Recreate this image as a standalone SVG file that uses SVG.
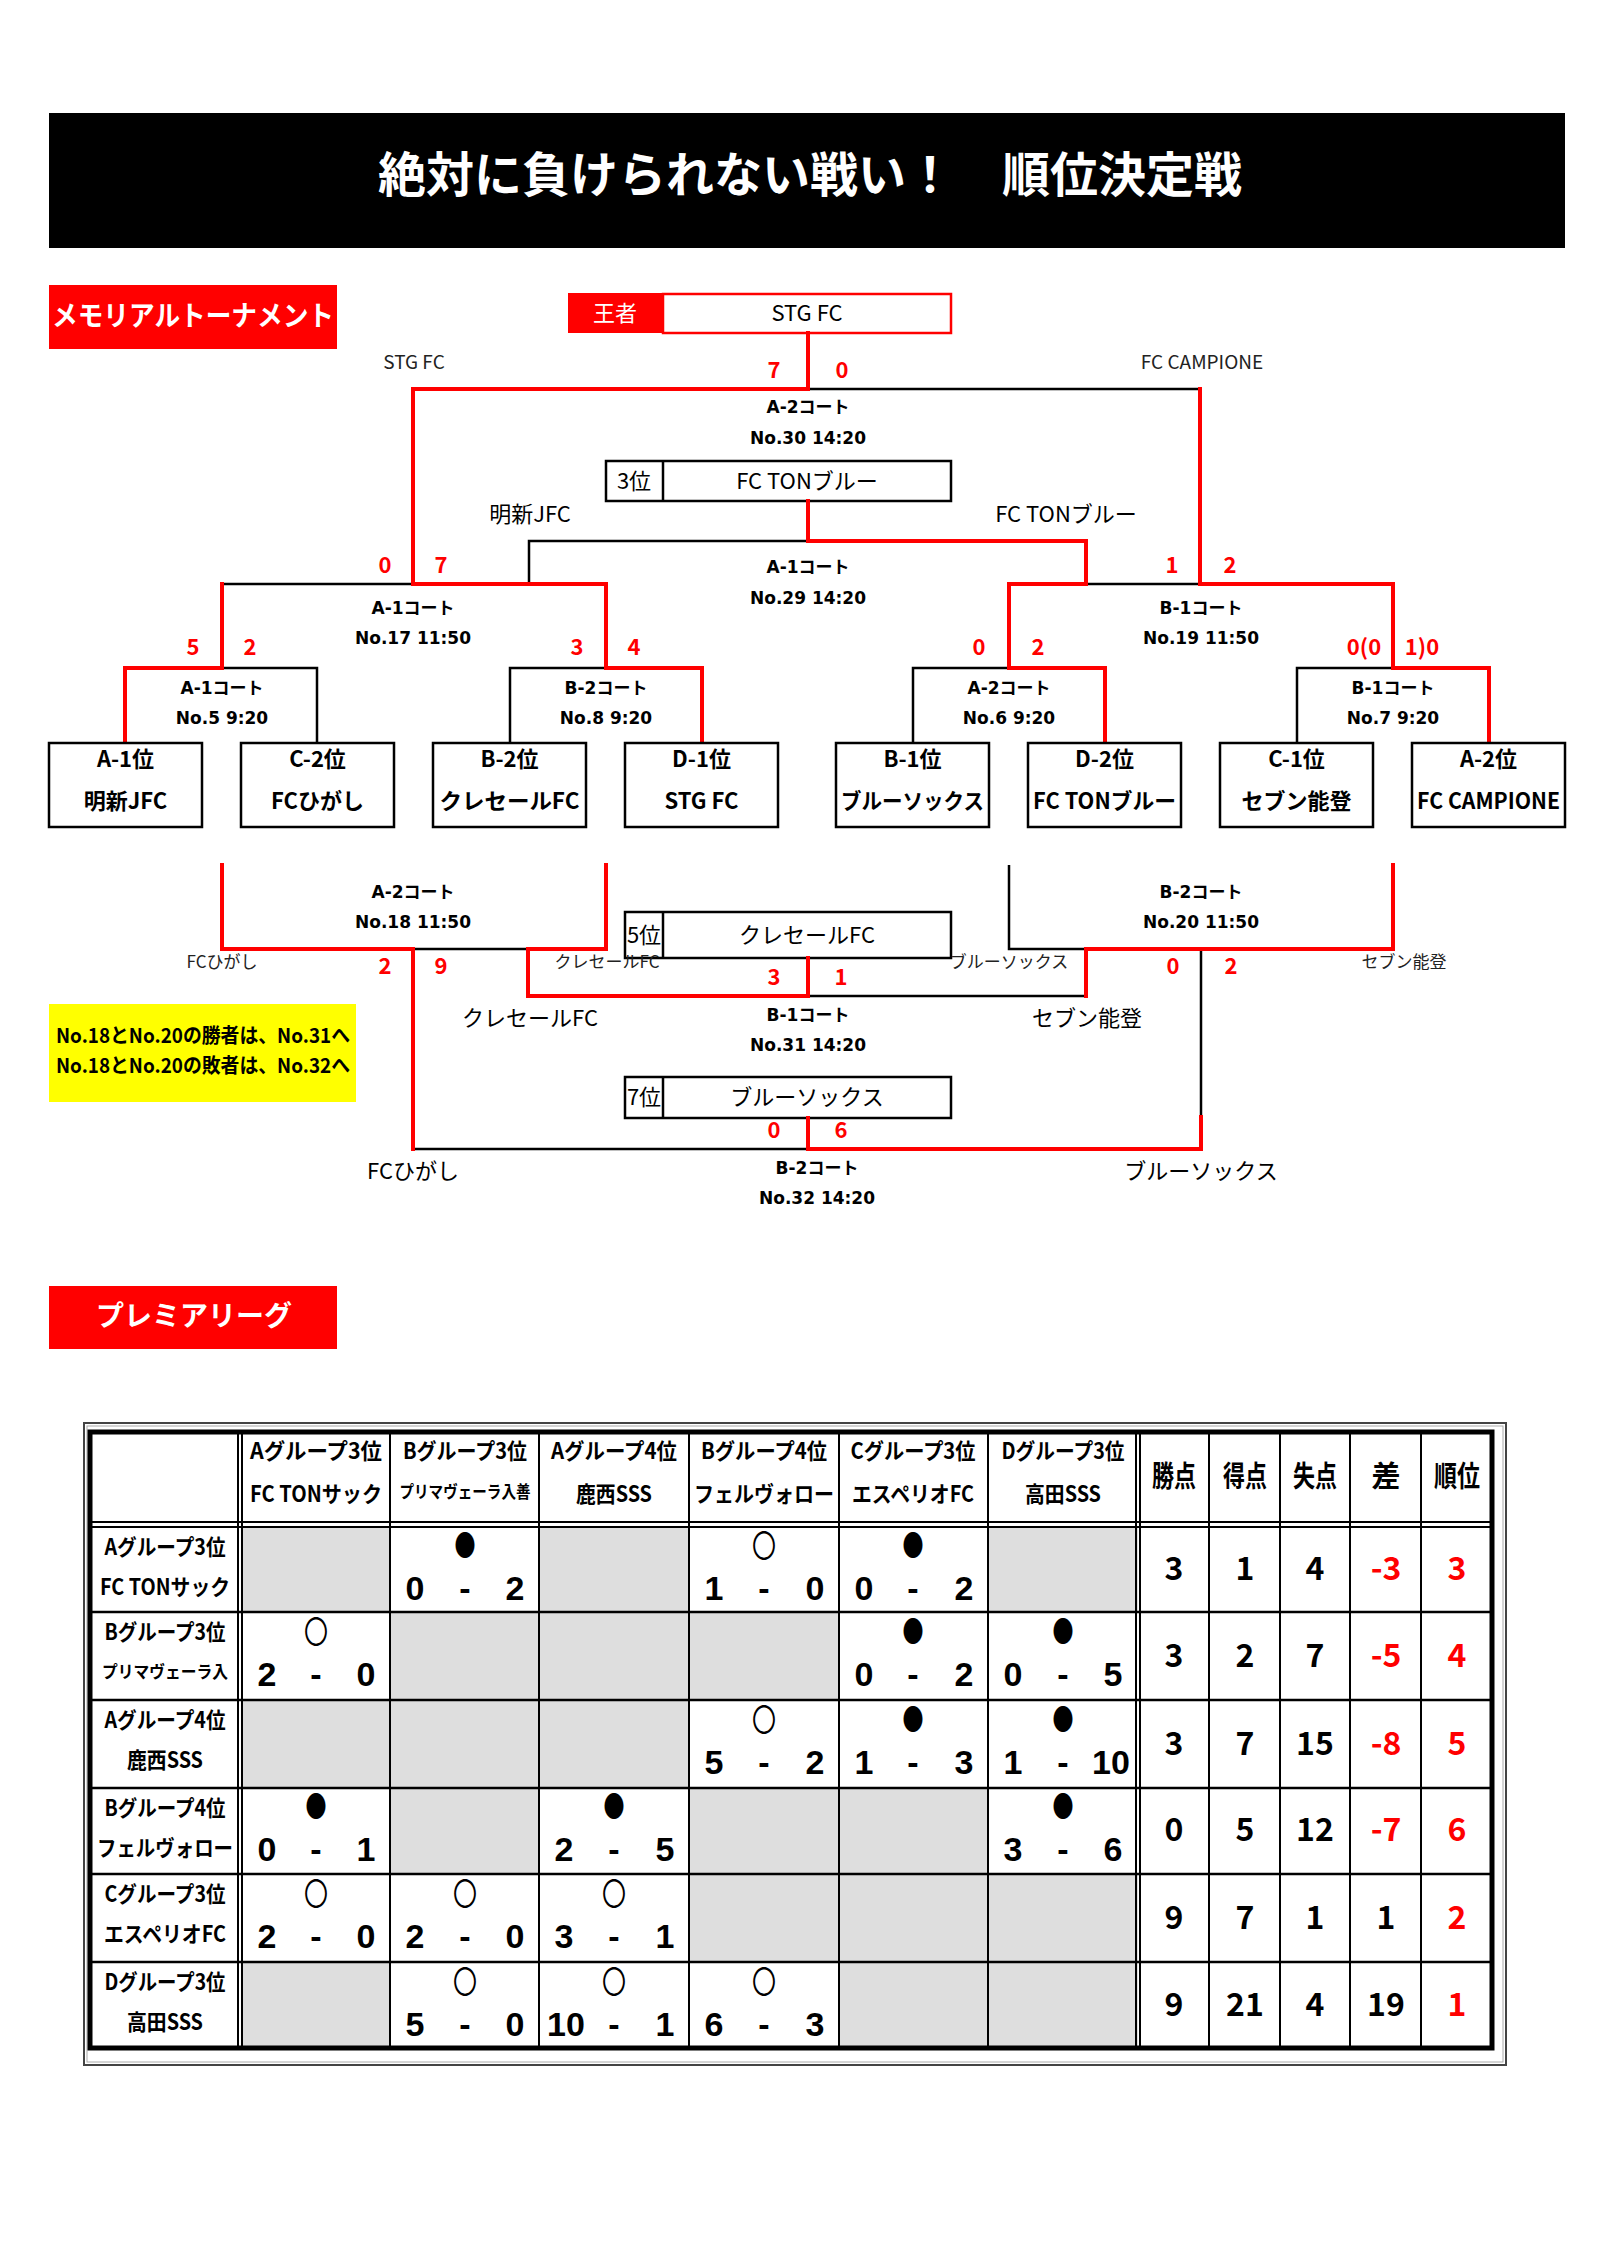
<svg xmlns="http://www.w3.org/2000/svg" width="1604" height="2268" viewBox="0 0 1604 2268">
<style>
text{font-family:"Noto Sans CJK JP","Noto Sans",sans-serif}
.title{font-size:48px;font-weight:bold;fill:#fff;text-anchor:middle}
.lab{font-size:28px;font-weight:bold;fill:#fff;text-anchor:middle}
.sc{font-size:22px;font-weight:bold;fill:#f00;text-anchor:middle}
.ct{font-family:"DejaVu Sans","Noto Sans CJK JP",sans-serif;font-size:17px;font-weight:bold;text-anchor:middle}
.bx{font-size:22px;font-weight:bold;text-anchor:middle}
.sm{font-size:17px;fill:#222;text-anchor:middle}
.sl{font-size:19px;fill:#222;text-anchor:middle}
.nm{font-size:22px;text-anchor:middle}
.rl{fill:none;stroke:#f00;stroke-width:4;stroke-linecap:square}
.bl{fill:none;stroke:#000;stroke-width:2.5}
.box{fill:#fff;stroke:#000;stroke-width:2.5}
.g{fill:#dedede}
.tl{stroke:#000;stroke-width:2}
.th{font-size:22px;font-weight:bold;text-anchor:middle}
.ts{font-size:17px;font-weight:bold;text-anchor:middle}
.hs{font-size:29px;font-weight:bold;text-anchor:middle}
.d{font-family:"Liberation Sans",Arial,sans-serif;font-size:34px;font-weight:bold;text-anchor:middle}
.st{font-size:32px;font-weight:bold;text-anchor:middle}
.r{fill:#f00}
.bk{font-size:29px;text-anchor:middle}
.wh{font-size:31px;text-anchor:middle}
</style>

<g id="title">
<rect x="49" y="113" width="1516" height="135" fill="#000"/>
<text class="title" x="810" y="192">絶対に負けられない戦い！　順位決定戦</text>
</g>

<g id="label-memorial">
<rect x="49" y="285" width="288" height="64" fill="#f00"/>
<text class="lab" x="193" y="326" textLength="282" lengthAdjust="spacingAndGlyphs">メモリアルトーナメント</text>
</g>

<g id="champion">
<rect x="568" y="293" width="95" height="40" fill="#f00"/>
<rect x="663" y="294" width="288" height="39" fill="#fff" stroke="#f00" stroke-width="2.5"/>
<text class="nm" x="615" y="321" fill="#fff">王者</text>
<text class="nm" x="807" y="321">STG FC</text>
</g>

<g id="third">
<rect x="606" y="461" width="345" height="40" class="box"/>
<line x1="663" y1="461" x2="663" y2="501" class="bl"/>
<text class="nm" x="634" y="489">3位</text>
<text class="nm" x="807" y="489">FC TONブルー</text>
</g>

<g id="fifth">
<rect x="625" y="912" width="326" height="46" class="box"/>
<line x1="663" y1="912" x2="663" y2="958" class="bl"/>
<text class="nm" x="644" y="943">5位</text>
<text class="nm" x="807" y="943">クレセールFC</text>
</g>

<g id="seventh">
<rect x="625" y="1077" width="326" height="41" class="box"/>
<line x1="663" y1="1077" x2="663" y2="1118" class="bl"/>
<text class="nm" x="644" y="1105">7位</text>
<text class="nm" x="807" y="1105">ブルーソックス</text>
</g>

<g id="connectors">
<path class="bl" d="M808,389 H1200 M529,584 V541 H808 M222,584 H413 M222,668 H317 V743 M510,743 V668 H606 M1086,584 H1200 M913,743 V668 H1009 M1297,743 V668 H1393 M413,949 H528 M413,1149 H808 M1201,1117 V949 M808,996 H1086 M1009,865 V949 H1086"/>
<path class="rl" d="M808,333 V389 M413,584 V389 H808 M1200,584 V389 M808,501 V541 H1086 V584 M222,668 V584 M413,584 H606 V668 M125,743 V668 H222 M606,668 H702 V743 M1009,668 V584 H1086 M1200,584 H1393 V668 M1009,668 H1105 V743 M1393,668 H1489 V743 M222,865 V949 H413 V1149 M606,865 V949 H528 V996 H808 M808,958 V996 M1086,996 V949 H1393 V865 M808,1118 V1149 H1201 V1117"/>
</g>

<g id="bracket-labels">
<text class="sl" x="414" y="369">STG FC</text>
<text class="sl" x="1202" y="369">FC CAMPIONE</text>
<text class="sc" x="774" y="378">7</text>
<text class="sc" x="842" y="378">0</text>
<text class="ct" x="808" y="413">A-2コート</text>
<text class="ct" x="808" y="444">No.30 14:20</text>
<text class="nm" x="530" y="522">明新JFC</text>
<text class="nm" x="1066" y="522">FC TONブルー</text>
<text class="sc" x="385" y="573">0</text>
<text class="sc" x="441" y="573">7</text>
<text class="sc" x="1172" y="573">1</text>
<text class="sc" x="1230" y="573">2</text>
<text class="ct" x="808" y="573">A-1コート</text>
<text class="ct" x="808" y="604">No.29 14:20</text>
<text class="ct" x="413" y="614">A-1コート</text>
<text class="ct" x="413" y="644">No.17 11:50</text>
<text class="ct" x="1201" y="614">B-1コート</text>
<text class="ct" x="1201" y="644">No.19 11:50</text>
<text class="sc" x="193" y="655">5</text>
<text class="sc" x="250" y="655">2</text>
<text class="sc" x="577" y="655">3</text>
<text class="sc" x="634" y="655">4</text>
<text class="sc" x="979" y="655">0</text>
<text class="sc" x="1038" y="655">2</text>
<text class="sc" x="1364" y="655">0(0</text>
<text class="sc" x="1422" y="655">1)0</text>
<text class="ct" x="222" y="694">A-1コート</text>
<text class="ct" x="222" y="724">No.5 9:20</text>
<text class="ct" x="606" y="694">B-2コート</text>
<text class="ct" x="606" y="724">No.8 9:20</text>
<text class="ct" x="1009" y="694">A-2コート</text>
<text class="ct" x="1009" y="724">No.6 9:20</text>
<text class="ct" x="1393" y="694">B-1コート</text>
<text class="ct" x="1393" y="724">No.7 9:20</text>

<text class="ct" x="413" y="898">A-2コート</text>
<text class="ct" x="413" y="928">No.18 11:50</text>
<text class="ct" x="1201" y="898">B-2コート</text>
<text class="ct" x="1201" y="928">No.20 11:50</text>
<text class="sm" x="222" y="968">FCひがし</text>
<text class="sm" x="607" y="968">クレセールFC</text>
<text class="sm" x="1009" y="968">ブルーソックス</text>
<text class="sm" x="1404" y="968">セブン能登</text>
<text class="sc" x="385" y="974">2</text>
<text class="sc" x="441" y="974">9</text>
<text class="sc" x="1173" y="974">0</text>
<text class="sc" x="1231" y="974">2</text>
<text class="sc" x="774" y="985">3</text>
<text class="sc" x="841" y="985">1</text>
<text class="nm" x="530" y="1026">クレセールFC</text>
<text class="nm" x="1087" y="1026">セブン能登</text>
<text class="ct" x="808" y="1021">B-1コート</text>
<text class="ct" x="808" y="1051">No.31 14:20</text>
<text class="sc" x="774" y="1138">0</text>
<text class="sc" x="841" y="1138">6</text>
<text class="nm" x="413" y="1179">FCひがし</text>
<text class="nm" x="1201" y="1179">ブルーソックス</text>
<text class="ct" x="817" y="1174">B-2コート</text>
<text class="ct" x="817" y="1204">No.32 14:20</text>
</g>

<g id="team-a1"><rect class="box" x="49" y="743" width="153" height="84"/><text class="bx" x="125.5" y="767">A-1位</text><text class="bx" x="125.5" y="809">明新JFC</text></g>
<g id="team-c2"><rect class="box" x="241" y="743" width="153" height="84"/><text class="bx" x="317.5" y="767">C-2位</text><text class="bx" x="317.5" y="809">FCひがし</text></g>
<g id="team-b2"><rect class="box" x="433" y="743" width="153" height="84"/><text class="bx" x="509.5" y="767">B-2位</text><text class="bx" x="509.5" y="809" textLength="140" lengthAdjust="spacingAndGlyphs">クレセールFC</text></g>
<g id="team-d1"><rect class="box" x="625" y="743" width="153" height="84"/><text class="bx" x="701.5" y="767">D-1位</text><text class="bx" x="701.5" y="809">STG FC</text></g>
<g id="team-b1"><rect class="box" x="836" y="743" width="153" height="84"/><text class="bx" x="912.5" y="767">B-1位</text><text class="bx" x="912.5" y="809" textLength="143" lengthAdjust="spacingAndGlyphs">ブルーソックス</text></g>
<g id="team-d2"><rect class="box" x="1028" y="743" width="153" height="84"/><text class="bx" x="1104.5" y="767">D-2位</text><text class="bx" x="1104.5" y="809" textLength="143" lengthAdjust="spacingAndGlyphs">FC TONブルー</text></g>
<g id="team-c1"><rect class="box" x="1220" y="743" width="153" height="84"/><text class="bx" x="1296.5" y="767">C-1位</text><text class="bx" x="1296.5" y="809">セブン能登</text></g>
<g id="team-a2"><rect class="box" x="1412" y="743" width="153" height="84"/><text class="bx" x="1488.5" y="767">A-2位</text><text class="bx" x="1488.5" y="809" textLength="143" lengthAdjust="spacingAndGlyphs">FC CAMPIONE</text></g>

<g id="note">
<rect x="49" y="1004" width="307" height="98" fill="#ff0"/>
<text x="56" y="1043" font-size="20" font-weight="bold" textLength="294" lengthAdjust="spacingAndGlyphs">No.18とNo.20の勝者は、No.31へ</text>
<text x="56" y="1073" font-size="20" font-weight="bold" textLength="294" lengthAdjust="spacingAndGlyphs">No.18とNo.20の敗者は、No.32へ</text>
</g>

<g id="label-premier">
<rect x="49" y="1286" width="288" height="63" fill="#f00"/>
<text class="lab" x="194" y="1326">プレミアリーグ</text>
</g>

<g id="league-table">
<rect x="84" y="1423" width="1422" height="642" fill="#fff" stroke="#444" stroke-width="2"/>
<rect x="87" y="1426" width="1416" height="636" fill="none" stroke="#aaa" stroke-width="1"/>
<rect class="g" x="242" y="1527" width="148" height="85"/>
<rect class="g" x="539" y="1527" width="150" height="85"/>
<rect class="g" x="988" y="1527" width="150" height="85"/>
<rect class="g" x="390" y="1612" width="449" height="88"/>
<rect class="g" x="242" y="1700" width="447" height="88"/>
<rect class="g" x="390" y="1788" width="149" height="86"/>
<rect class="g" x="689" y="1788" width="299" height="86"/>
<rect class="g" x="689" y="1874" width="449" height="88"/>
<rect class="g" x="242" y="1962" width="148" height="86"/>
<rect class="g" x="839" y="1962" width="299" height="86"/>
<g class="tl">
<line x1="238" y1="1432" x2="238" y2="2048"/><line x1="242" y1="1432" x2="242" y2="2048"/>
<line x1="390" y1="1432" x2="390" y2="2048"/>
<line x1="539" y1="1432" x2="539" y2="2048"/>
<line x1="689" y1="1432" x2="689" y2="2048"/>
<line x1="839" y1="1432" x2="839" y2="2048"/>
<line x1="988" y1="1432" x2="988" y2="2048"/>
<line x1="1136" y1="1432" x2="1136" y2="2048"/><line x1="1140" y1="1432" x2="1140" y2="2048"/>
<line x1="1209" y1="1432" x2="1209" y2="2048"/>
<line x1="1280" y1="1432" x2="1280" y2="2048"/>
<line x1="1350" y1="1432" x2="1350" y2="2048"/>
<line x1="1421" y1="1432" x2="1421" y2="2048"/>
<line x1="90" y1="1522" x2="1492" y2="1522"/><line x1="90" y1="1527" x2="1492" y2="1527"/>
<line x1="90" y1="1612" x2="1492" y2="1612" stroke-width="2.5"/>
<line x1="90" y1="1700" x2="1492" y2="1700" stroke-width="2.5"/>
<line x1="90" y1="1788" x2="1492" y2="1788" stroke-width="2.5"/>
<line x1="90" y1="1874" x2="1492" y2="1874" stroke-width="2.5"/>
<line x1="90" y1="1962" x2="1492" y2="1962" stroke-width="2.5"/>
</g>
<rect x="90" y="1432" width="1402" height="616" fill="none" stroke="#000" stroke-width="5"/>

<text class="th" x="316" y="1459" textLength="132" lengthAdjust="spacingAndGlyphs">Aグループ3位</text>
<text class="th" x="316" y="1502" textLength="132" lengthAdjust="spacingAndGlyphs">FC TONサック</text>
<text class="th" x="465" y="1459" textLength="124" lengthAdjust="spacingAndGlyphs">Bグループ3位</text>
<text class="ts" x="465" y="1498" textLength="131" lengthAdjust="spacingAndGlyphs">プリマヴェーラ入善</text>
<text class="th" x="614" y="1459" textLength="126" lengthAdjust="spacingAndGlyphs">Aグループ4位</text>
<text class="th" x="614" y="1502" textLength="76" lengthAdjust="spacingAndGlyphs">鹿西SSS</text>
<text class="th" x="764" y="1459" textLength="126" lengthAdjust="spacingAndGlyphs">Bグループ4位</text>
<text class="th" x="764" y="1502" textLength="140" lengthAdjust="spacingAndGlyphs">フェルヴォロー</text>
<text class="th" x="913" y="1459" textLength="125" lengthAdjust="spacingAndGlyphs">Cグループ3位</text>
<text class="th" x="913" y="1502" textLength="122" lengthAdjust="spacingAndGlyphs">エスペリオFC</text>
<text class="th" x="1063" y="1459" textLength="123" lengthAdjust="spacingAndGlyphs">Dグループ3位</text>
<text class="th" x="1063" y="1502" textLength="76" lengthAdjust="spacingAndGlyphs">高田SSS</text>
<text class="hs" x="1174" y="1487" textLength="44" lengthAdjust="spacingAndGlyphs">勝点</text>
<text class="hs" x="1245" y="1487" textLength="44" lengthAdjust="spacingAndGlyphs">得点</text>
<text class="hs" x="1315" y="1487" textLength="44" lengthAdjust="spacingAndGlyphs">失点</text>
<text class="hs" x="1386" y="1487">差</text>
<text class="hs" x="1457" y="1487" textLength="46" lengthAdjust="spacingAndGlyphs">順位</text>

<text class="th" x="165" y="1555" textLength="121" lengthAdjust="spacingAndGlyphs">Aグループ3位</text>
<text class="th" x="165" y="1595" textLength="130" lengthAdjust="spacingAndGlyphs">FC TONサック</text>
<text class="th" x="165" y="1640" textLength="121" lengthAdjust="spacingAndGlyphs">Bグループ3位</text>
<text class="ts" x="165" y="1678" textLength="126" lengthAdjust="spacingAndGlyphs">プリマヴェーラ入</text>
<text class="th" x="165" y="1728" textLength="121" lengthAdjust="spacingAndGlyphs">Aグループ4位</text>
<text class="th" x="165" y="1768" textLength="76" lengthAdjust="spacingAndGlyphs">鹿西SSS</text>
<text class="th" x="165" y="1816" textLength="121" lengthAdjust="spacingAndGlyphs">Bグループ4位</text>
<text class="th" x="165" y="1856" textLength="136" lengthAdjust="spacingAndGlyphs">フェルヴォロー</text>
<text class="th" x="165" y="1902" textLength="121" lengthAdjust="spacingAndGlyphs">Cグループ3位</text>
<text class="th" x="165" y="1942" textLength="122" lengthAdjust="spacingAndGlyphs">エスペリオFC</text>
<text class="th" x="165" y="1990" textLength="121" lengthAdjust="spacingAndGlyphs">Dグループ3位</text>
<text class="th" x="165" y="2030" textLength="76" lengthAdjust="spacingAndGlyphs">高田SSS</text>

<text class="bk" x="465" y="1556" textLength="21" lengthAdjust="spacingAndGlyphs">●</text>
<text class="d" x="415" y="1600">0</text><text class="d" x="465" y="1600">-</text><text class="d" x="515" y="1600">2</text>
<text class="wh" x="764" y="1557" textLength="24" lengthAdjust="spacingAndGlyphs">〇</text>
<text class="d" x="714" y="1600">1</text><text class="d" x="764" y="1600">-</text><text class="d" x="815" y="1600">0</text>
<text class="bk" x="913" y="1556" textLength="21" lengthAdjust="spacingAndGlyphs">●</text>
<text class="d" x="864" y="1600">0</text><text class="d" x="913" y="1600">-</text><text class="d" x="964" y="1600">2</text>

<text class="wh" x="316" y="1643" textLength="24" lengthAdjust="spacingAndGlyphs">〇</text>
<text class="d" x="267" y="1686">2</text><text class="d" x="316" y="1686">-</text><text class="d" x="366" y="1686">0</text>
<text class="bk" x="913" y="1642" textLength="21" lengthAdjust="spacingAndGlyphs">●</text>
<text class="d" x="864" y="1686">0</text><text class="d" x="913" y="1686">-</text><text class="d" x="964" y="1686">2</text>
<text class="bk" x="1063" y="1642" textLength="21" lengthAdjust="spacingAndGlyphs">●</text>
<text class="d" x="1013" y="1686">0</text><text class="d" x="1063" y="1686">-</text><text class="d" x="1113" y="1686">5</text>

<text class="wh" x="764" y="1731" textLength="24" lengthAdjust="spacingAndGlyphs">〇</text>
<text class="d" x="714" y="1774">5</text><text class="d" x="764" y="1774">-</text><text class="d" x="815" y="1774">2</text>
<text class="bk" x="913" y="1730" textLength="21" lengthAdjust="spacingAndGlyphs">●</text>
<text class="d" x="864" y="1774">1</text><text class="d" x="913" y="1774">-</text><text class="d" x="964" y="1774">3</text>
<text class="bk" x="1063" y="1730" textLength="21" lengthAdjust="spacingAndGlyphs">●</text>
<text class="d" x="1013" y="1774">1</text><text class="d" x="1063" y="1774">-</text><text class="d" x="1111" y="1774">10</text>

<text class="bk" x="316" y="1817" textLength="21" lengthAdjust="spacingAndGlyphs">●</text>
<text class="d" x="267" y="1861">0</text><text class="d" x="316" y="1861">-</text><text class="d" x="366" y="1861">1</text>
<text class="bk" x="614" y="1817" textLength="21" lengthAdjust="spacingAndGlyphs">●</text>
<text class="d" x="564" y="1861">2</text><text class="d" x="614" y="1861">-</text><text class="d" x="665" y="1861">5</text>
<text class="bk" x="1063" y="1817" textLength="21" lengthAdjust="spacingAndGlyphs">●</text>
<text class="d" x="1013" y="1861">3</text><text class="d" x="1063" y="1861">-</text><text class="d" x="1113" y="1861">6</text>

<text class="wh" x="316" y="1905" textLength="24" lengthAdjust="spacingAndGlyphs">〇</text>
<text class="d" x="267" y="1948">2</text><text class="d" x="316" y="1948">-</text><text class="d" x="366" y="1948">0</text>
<text class="wh" x="465" y="1905" textLength="24" lengthAdjust="spacingAndGlyphs">〇</text>
<text class="d" x="415" y="1948">2</text><text class="d" x="465" y="1948">-</text><text class="d" x="515" y="1948">0</text>
<text class="wh" x="614" y="1905" textLength="24" lengthAdjust="spacingAndGlyphs">〇</text>
<text class="d" x="564" y="1948">3</text><text class="d" x="614" y="1948">-</text><text class="d" x="665" y="1948">1</text>

<text class="wh" x="465" y="1993" textLength="24" lengthAdjust="spacingAndGlyphs">〇</text>
<text class="d" x="415" y="2036">5</text><text class="d" x="465" y="2036">-</text><text class="d" x="515" y="2036">0</text>
<text class="wh" x="614" y="1993" textLength="24" lengthAdjust="spacingAndGlyphs">〇</text>
<text class="d" x="566" y="2036">10</text><text class="d" x="614" y="2036">-</text><text class="d" x="665" y="2036">1</text>
<text class="wh" x="764" y="1993" textLength="24" lengthAdjust="spacingAndGlyphs">〇</text>
<text class="d" x="714" y="2036">6</text><text class="d" x="764" y="2036">-</text><text class="d" x="815" y="2036">3</text>

<text class="st" x="1174" y="1580">3</text><text class="st" x="1245" y="1580">1</text><text class="st" x="1315" y="1580">4</text><text class="st r" x="1386" y="1580">-3</text><text class="st r" x="1457" y="1580">3</text>
<text class="st" x="1174" y="1667">3</text><text class="st" x="1245" y="1667">2</text><text class="st" x="1315" y="1667">7</text><text class="st r" x="1386" y="1667">-5</text><text class="st r" x="1457" y="1667">4</text>
<text class="st" x="1174" y="1755">3</text><text class="st" x="1245" y="1755">7</text><text class="st" x="1315" y="1755">15</text><text class="st r" x="1386" y="1755">-8</text><text class="st r" x="1457" y="1755">5</text>
<text class="st" x="1174" y="1841">0</text><text class="st" x="1245" y="1841">5</text><text class="st" x="1315" y="1841">12</text><text class="st r" x="1386" y="1841">-7</text><text class="st r" x="1457" y="1841">6</text>
<text class="st" x="1174" y="1929">9</text><text class="st" x="1245" y="1929">7</text><text class="st" x="1315" y="1929">1</text><text class="st" x="1386" y="1929">1</text><text class="st r" x="1457" y="1929">2</text>
<text class="st" x="1174" y="2016">9</text><text class="st" x="1245" y="2016">21</text><text class="st" x="1315" y="2016">4</text><text class="st" x="1386" y="2016">19</text><text class="st r" x="1457" y="2016">1</text>
</g>
</svg>
